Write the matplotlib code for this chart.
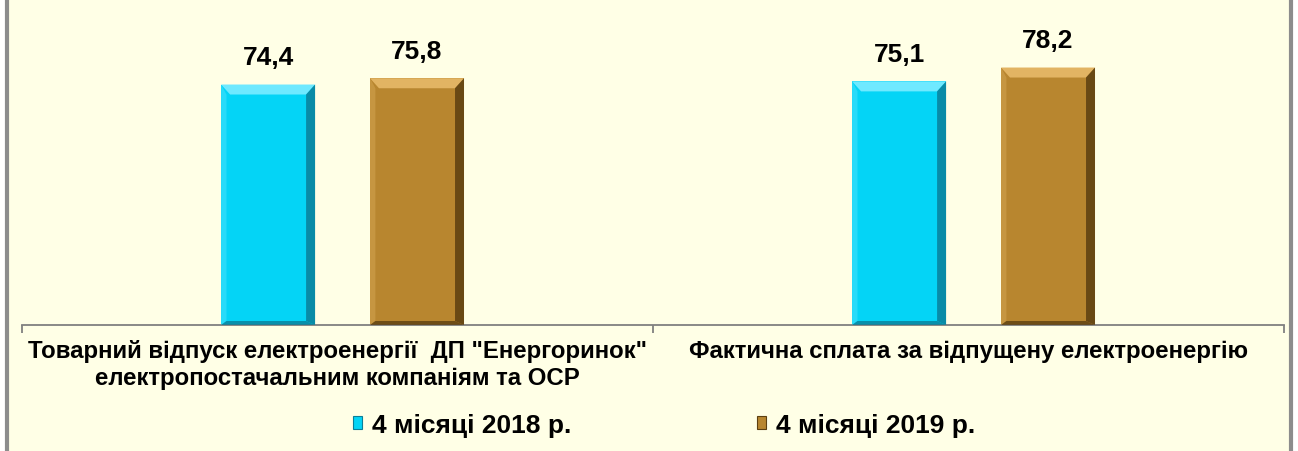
import matplotlib
matplotlib.use('Agg')
import matplotlib.pyplot as plt
from matplotlib.patches import Polygon, Rectangle, Patch
from matplotlib.ticker import FixedLocator

categories = ['Товарний відпуск електроенергії  ДП "Енергоринок"\nелектропостачальним компаніям та ОСР',
              'Фактична сплата за відпущену електроенергію']
series_names = ['4 місяці 2018 р.', '4 місяці 2019 р.']
values_2018 = [74.4, 75.1]
values_2019 = [75.8, 78.2]
value_labels_2018 = ['74,4', '75,1']
value_labels_2019 = ['75,8', '78,2']

BG = '#FFFFE6'
FONT = ['Liberation Sans', 'DejaVu Sans']
# face, light top, dark right/bottom
CYAN = ('#04D4F6', '#6FE9FF', '#0A7F99')
BROWN = ('#B8862F', '#E2B463', '#5C3F10')

plt.rcParams['font.family'] = FONT
plt.rcParams['font.weight'] = 'bold'

fig = plt.figure(figsize=(12.98, 4.52), dpi=100, facecolor='white')
# chart area frame
fig.patches.append(Rectangle((7 / 1298, -0.05), 1284 / 1298, 1.1, transform=fig.transFigure,
                             facecolor=BG, edgecolor='#8C8C8C', linewidth=3, zorder=-1))

ax = fig.add_axes([22 / 1298, 1 - 326 / 452, 1262 / 1298, 318 / 452])
ax.set_zorder(2)
ax.set_facecolor('none')
ax.set_xlim(-0.5, 1.5)
ax.set_ylim(20.6, 20.6 + 318 / 4.47)

x = [0, 1]
w = 0.149
off = 0.118
shift = 0.008
bars_a = ax.bar([i - off + shift for i in x], values_2018, w, color=CYAN[0], zorder=2)
bars_b = ax.bar([i + off + shift for i in x], values_2019, w, color=BROWN[0], zorder=2)

# bevel effect on each bar
p0 = ax.transData.transform((0, 0))
p1 = ax.transData.transform((1, 1))
bx = 9 / (p1[0] - p0[0])
by = 10 / (p1[1] - p0[1])


def add_bevel(bar, colors):
    x0 = bar.get_x()
    x1 = x0 + bar.get_width()
    y0 = ax.get_ylim()[0]
    y1 = bar.get_y() + bar.get_height()
    top = Polygon([(x0, y1), (x1, y1), (x1 - bx, y1 - by), (x0 + bx, y1 - by)],
                  facecolor=colors[1], edgecolor='none', zorder=3)
    right = Polygon([(x1, y1), (x1, y0), (x1 - bx, y0 + by * 0.4), (x1 - bx, y1 - by)],
                    facecolor=colors[2], edgecolor='none', zorder=3, alpha=0.85)
    left = Polygon([(x0, y1), (x0, y0), (x0 + bx * 0.6, y0 + by * 0.4), (x0 + bx * 0.6, y1 - by)],
                   facecolor=colors[1], edgecolor='none', zorder=3, alpha=0.35)
    bottom = Polygon([(x0, y0), (x1, y0), (x1 - bx, y0 + by * 0.4), (x0 + bx * 0.6, y0 + by * 0.4)],
                     facecolor=colors[2], edgecolor='none', zorder=3, alpha=0.8)
    for p in (top, right, left, bottom):
        ax.add_patch(p)


for b in bars_a:
    add_bevel(b, CYAN)
for b in bars_b:
    add_bevel(b, BROWN)

for b, lab in zip(list(bars_a) + list(bars_b), value_labels_2018 + value_labels_2019):
    ax.annotate(lab, (b.get_x() + b.get_width() / 2, b.get_height()),
                xytext=(0, 11), textcoords='offset points', ha='center', va='bottom',
                fontsize=19, fontweight='bold', color='black')

for s in ('top', 'right', 'left'):
    ax.spines[s].set_visible(False)
ax.spines['bottom'].set_color('#808080')
ax.spines['bottom'].set_linewidth(1.3)
ax.set_yticks([])
ax.set_xticks(x)
ax.set_xticklabels(categories, fontsize=17.3, fontweight='bold', linespacing=1.25)
ax.tick_params(axis='x', which='major', length=0, pad=10)
ax.xaxis.set_minor_locator(FixedLocator([-0.5, 0.5, 1.5]))
ax.tick_params(axis='x', which='minor', length=6, width=1.3, color='#808080', direction='out')

handles = [Patch(facecolor=CYAN[0], edgecolor=CYAN[2], linewidth=0.8),
           Patch(facecolor=BROWN[0], edgecolor=BROWN[2], linewidth=0.8)]
fig.legend(handles, series_names, loc='center', bbox_to_anchor=(664 / 1298, 1 - 426 / 452),
           ncol=2, frameon=False, prop={'family': FONT, 'weight': 'bold', 'size': 19},
           handlelength=0.34, handleheight=0.36, handletextpad=0.38, columnspacing=7.05)

fig.savefig('out.png', dpi=100, facecolor=fig.get_facecolor())
